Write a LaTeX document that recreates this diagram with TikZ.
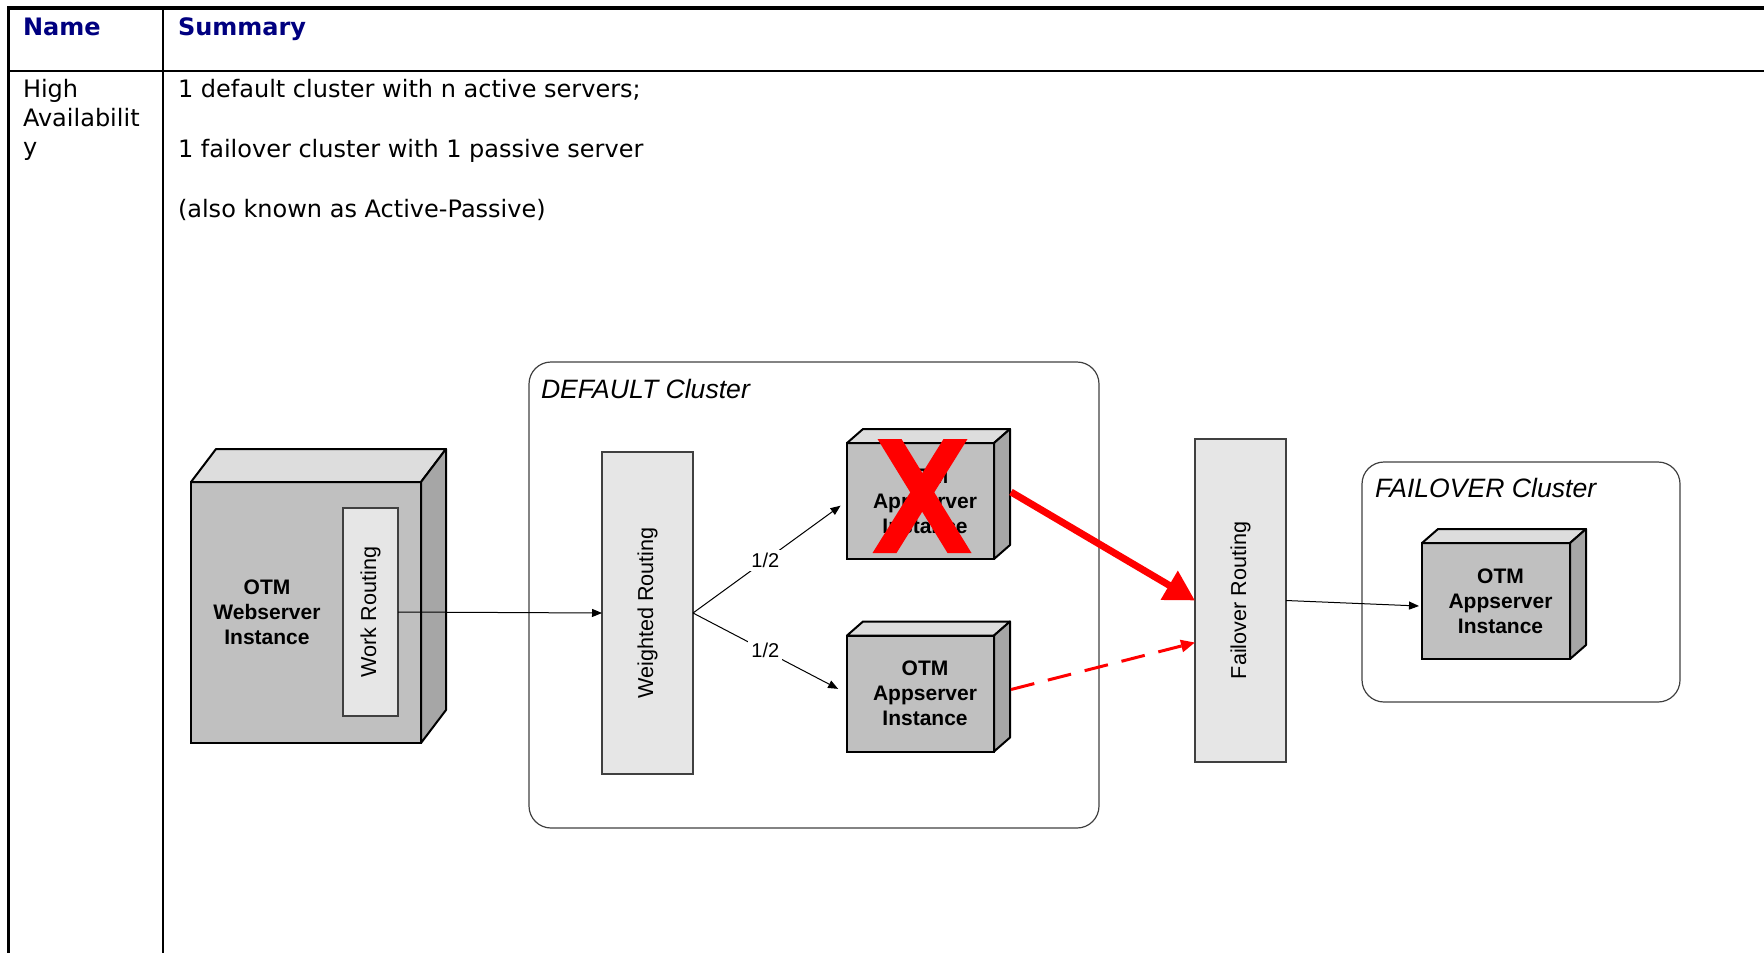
\documentclass[tikz,border=0pt]{standalone}
\usepackage{fontspec}
\setmainfont{Liberation Sans}
\newfontfamily\verdana{DejaVu Sans}
\usepackage{graphicx}
\usepackage{tikz}
\usetikzlibrary{positioning, calc, arrows.meta}
\definecolor{HeadBlue}{RGB}{0, 0, 128}
\definecolor{FrontGray}{RGB}{192, 192, 192}
\definecolor{TopGray}{RGB}{221, 221, 221}
\definecolor{SideGray}{RGB}{166, 166, 166}
\definecolor{RouteGray}{RGB}{230, 230, 230}
\definecolor{EdgeGray}{RGB}{64, 64, 64}

% top and right faces of a server block
\newcommand{\serverfaces}[3]{%
  \filldraw[fill=TopGray, line width=1pt, line join=round] (#1.north west) -- ++(#2,#3) -- ([shift={(#2,#3)}]#1.north east) -- (#1.north east) -- cycle;
  \filldraw[fill=SideGray, line width=1pt, line join=round] (#1.north east) -- ([shift={(#2,#3)}]#1.north east) -- ([shift={(#2,#3)}]#1.south east) -- (#1.south east) -- cycle;
}

\begin{document}
\begin{tikzpicture}[
        x=0.5pt, y=-0.5pt,
        every node/.style={inner sep=0pt, outer sep=0pt},
        server/.style={rectangle, draw=black, line width=1pt, fill=FrontGray},
        servertext/.style={align=center, font=\bfseries\fontsize{10.5}{12.5}\selectfont},
        router/.style={rectangle, draw=EdgeGray, line width=0.6pt, fill=RouteGray, font=\fontsize{10.8}{13}\selectfont},
        cluster/.style={rectangle, rounded corners=11pt, draw=EdgeGray, line width=0.6pt},
        clustertitle/.style={anchor=base west, font=\itshape\fontsize{13.3}{16}\selectfont},
        cell/.style={anchor=base west, font=\verdana\fontsize{12}{14.5}\selectfont},
        head/.style={anchor=base west, text=HeadBlue, font=\verdana\bfseries\fontsize{12}{14.5}\selectfont},
        link/.style={-{Triangle[length=5pt, width=4pt]}, line width=0.5pt},
        share/.style={fill=white, inner sep=1.5pt, font=\fontsize{10}{12}\selectfont}
    ]
        \useasboundingbox (0,0) rectangle (1764,953);

        % Table rules
        \draw[line width=1.7pt] (7,8) -- (1764,8);
        \draw[line width=1.35pt] (7,71) -- (1764,71);
        \draw[line width=1.1pt] (8.5,8) -- (8.5,953);
        \draw[line width=1.2pt] (163,8) -- (163,953);

        % Table text
        \node[head] (namehd) at (23,35) {Name};
        \node[head] (sumhd) at (178,35) {Summary};
        \node[cell] (ha1) at (23,97) {High};
        \node[cell] (ha2) at (23,126) {Availabilit};
        \node[cell] (ha3) at (23,155) {y};
        \node[cell] (sum1) at (178,97) {1 default cluster with n active servers;};
        \node[cell] (sum2) at (178,157) {1 failover cluster with 1 passive server};
        \node[cell] (sum3) at (178,217) {(also known as Active-Passive)};

        % Clusters
        \node[cluster, minimum width=285pt, minimum height=233pt] (defcl) at (814,595) {};
        \node[clustertitle] (deftitle) at (541,398) {DEFAULT Cluster};
        \node[cluster, minimum width=159pt, minimum height=120pt] (focl) at (1521,582) {};
        \node[clustertitle] (fotitle) at (1375,497) {FAILOVER Cluster};

        % Webserver
        \node[server, minimum width=115pt, minimum height=130.5pt] (web) at (306,612.5) {};
        \serverfaces{web}{25}{-33}
        \node[servertext] (webtxt) at (267,612) {OTM\\Webserver\\Instance};
        \node[router, minimum width=27.5pt, minimum height=104pt] (work) at (370.5,612) {\rotatebox{90}{Work Routing}};

        % Routing columns
        \node[router, minimum width=45.5pt, minimum height=161pt] (weighted) at (647.5,613) {\rotatebox{90}{Weighted Routing}};
        \node[router, minimum width=45.5pt, minimum height=161.5pt] (failrt) at (1240.5,600.5) {\rotatebox{90}{Failover Routing}};

        % Appservers
        \node[server, minimum width=73.5pt, minimum height=58pt] (apptop) at (920.5,501) {};
        \serverfaces{apptop}{16}{-14}
        \node[servertext] (apptoptxt) at ([xshift=2.25pt]apptop.center) {OTM\\Appserver\\Instance};
        \node[server, minimum width=73.5pt, minimum height=58pt] (appbot) at (920.5,693.5) {};
        \serverfaces{appbot}{16}{-14}
        \node[servertext] (appbottxt) at ([xshift=2.25pt]appbot.center) {OTM\\Appserver\\Instance};
        \node[server, minimum width=74pt, minimum height=58pt] (appfo) at (1496,601) {};
        \serverfaces{appfo}{16}{-14}
        \node[servertext] (appfotxt) at ([xshift=2.25pt]appfo.center) {OTM\\Appserver\\Instance};

        % Crossed out
        \begin{scope}[shift={(apptop.center)}]
            \fill[red] (-43,-62) -- (-19,-62) -- (51,52) -- (27,52) -- cycle;
            \fill[red] (23,-62) -- (47,-62) -- (-24,52) -- (-48,52) -- cycle;
        \end{scope}

        % Arrows
        \draw[link] (work.east) -- (weighted.west);
        \draw[link, shorten >=4pt] (weighted.east) -- node[share, pos=0.47] (halfup) {1/2} (apptop.west);
        \draw[link, shorten >=5pt] (weighted.east) -- node[share, pos=0.47] (halfdn) {1/2} (appbot.west);
        \draw[link] (failrt.east) -- ($(appfo.west)+(-3,5)$);

        % Failover arrows
        \coordinate (crashout) at ($(apptop.east)+(17,-9)$);
        \coordinate (passout) at ($(appbot.east)+(17,-4)$);
        \draw[red, line width=3.5pt, -{Triangle[length=15pt, width=16pt]}] (crashout) -- (failrt.west);
        \draw[red, line width=1.5pt, dash pattern=on 12pt off 7pt, -{Triangle[length=7pt, width=6pt]}] (passout) -- ($(failrt.south west)!0.37!(failrt.north west)$);
    \end{tikzpicture}
\end{document}
